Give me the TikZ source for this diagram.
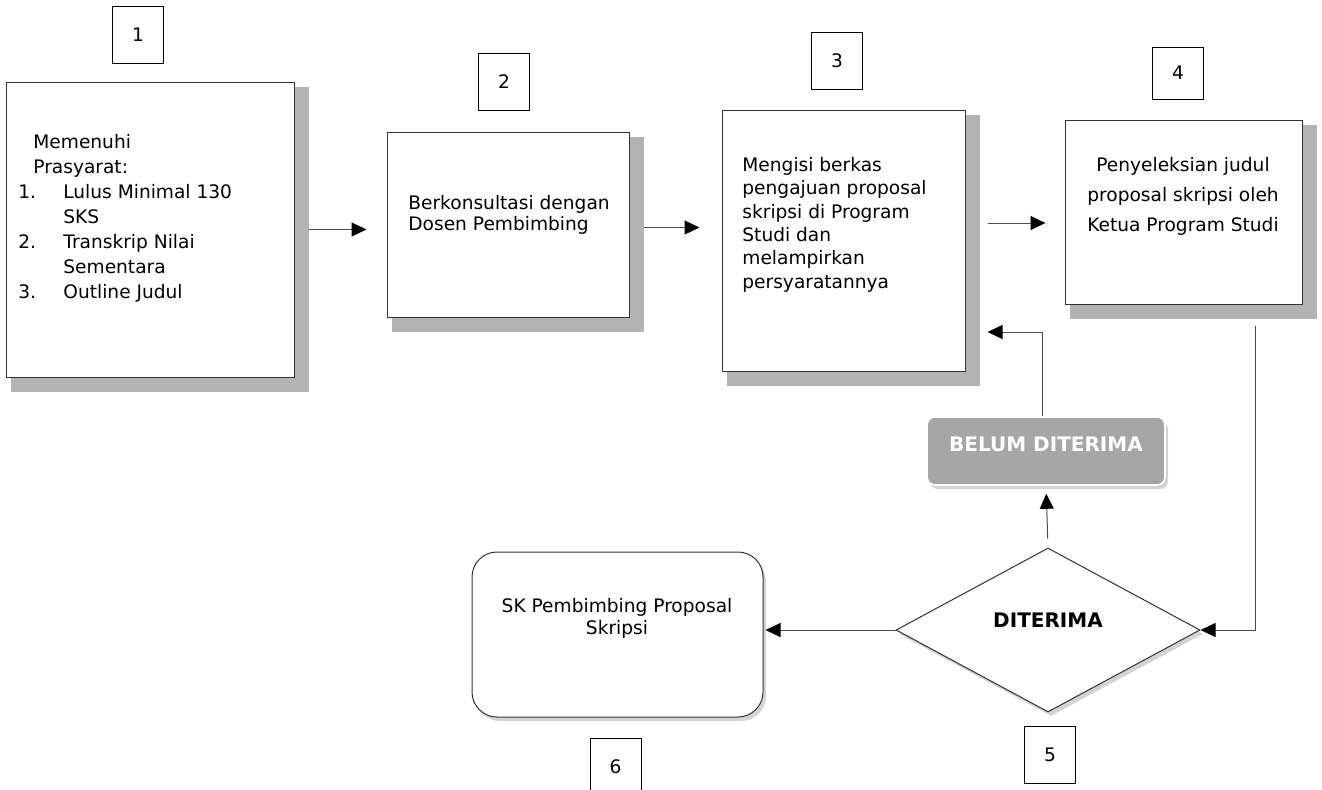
\documentclass[tikz,border=0pt]{standalone}
\usepackage{fontspec}
\setmainfont{DejaVu Sans}
\usetikzlibrary{arrows.meta,shapes.geometric,shadows,backgrounds}
\definecolor{shadowgray}{HTML}{B3B3B3}
\definecolor{belumgray}{HTML}{A6A6A6}
\tikzset{
  box/.style={draw=black!80, line width=0.5pt, fill=white, inner sep=0pt},
  numbox/.style={draw=black, line width=0.5pt, fill=white, minimum width=25.5pt, minimum height=28.5pt, inner sep=0pt, font=\fontsize{9.3}{11}\selectfont},
  txt/.style={inner sep=0pt, align=left, font=\fontsize{9.3}{11}\selectfont},
  bold/.style={inner sep=0pt, font=\bfseries\fontsize{10}{12}\selectfont},
  arr/.style={draw=black!70, line width=0.5pt, -{Triangle[length=7.5pt,width=7pt,color=black]}},
  softshadow/.style={drop shadow={opacity=0.35, shadow xshift=1.5pt, shadow yshift=-2pt}},
}
\begin{document}
\begin{tikzpicture}[x=0.5pt, y=-0.5pt]
        \useasboundingbox (0,0) rectangle (1322,789);
        % main boxes
        \node[box, minimum width=144pt, minimum height=147.5pt] (b1) at (150,229.5) {};
        \node[box, minimum width=121pt, minimum height=92.5pt] (b2) at (508,224.5) {};
        \node[box, minimum width=121.5pt, minimum height=130.5pt] (b3) at (843.5,240.5) {};
        \node[box, minimum width=118.5pt, minimum height=92pt] (b4) at (1183.5,212) {};
        \begin{scope}[on background layer]
          \foreach \b in {b1,b2,b3,b4}
            \fill[shadowgray] ([shift={(5,5)}]\b.north west) rectangle ([shift={(14,14)}]\b.south east);
        \end{scope}
        \node[txt, anchor=north west, font=\fontsize{9.3}{12.5}\selectfont] (t1) at (18,134) {\hspace*{7.5pt}Memenuhi\\\hspace*{7.5pt}Prasyarat:\\\makebox[22.5pt][l]{1.}Lulus Minimal 130\\\hspace*{22.5pt}SKS\\\makebox[22.5pt][l]{2.}Transkrip Nilai\\\hspace*{22.5pt}Sementara\\\makebox[22.5pt][l]{3.}Outline Judul};
        \node[txt, anchor=north west, font=\fontsize{9.3}{10.5}\selectfont] (t2) at (408,195) {Berkonsultasi dengan\\Dosen Pembimbing};
        \node[txt, anchor=north west, font=\fontsize{9.3}{11.67}\selectfont] (t3) at (742,157) {Mengisi berkas\\pengajuan proposal\\skripsi di Program\\Studi dan\\melampirkan\\persyaratannya};
        \node[txt, anchor=north, align=center, font=\fontsize{9.3}{15}\selectfont] (t4) at (1183,157) {Penyeleksian judul\\proposal skripsi oleh\\Ketua Program Studi};
        % decision part
        \node[box, shape=diamond, minimum width=152pt, minimum height=82pt, softshadow] (dia) at (1048,630) {};
        \node[bold] (tdia) at (1048,620) {DITERIMA};
        \node[draw=white, line width=0.8pt, fill=belumgray, rounded corners=4pt, minimum width=119pt, minimum height=34pt, softshadow] (belum) at (1046,451) {};
        \node[bold, text=white] (tbelum) at (1046,444) {BELUM DITERIMA};
        \node[box, rounded corners=12.5pt, minimum width=145.5pt, minimum height=82.5pt, softshadow] (sk) at (617.5,634.5) {};
        \node[txt, anchor=north, align=center, font=\fontsize{9.3}{11}\selectfont] (tsk) at (617,598) {SK Pembimbing Proposal\\Skripsi};
        % numbers
        \node[numbox] (n1) at (138,35) {1};
        \node[numbox] (n2) at (504,82) {2};
        \node[numbox] (n3) at (837,61) {3};
        \node[numbox, minimum height=26pt] (n4) at (1178,73) {4};
        \node[numbox] (n5) at (1050,755) {5};
        \node[numbox] (n6) at (615.5,767) {6};
        % arrows
        \coordinate (k1) at (1042,332);
        \coordinate (k2) at (1255,630);
        \draw[arr] ([xshift=7pt]b1.east) -- ([xshift=-10pt]b1.east -| b2.west);
        \draw[arr] ([xshift=7pt,yshift=-1.5pt]b2.east) -- ([xshift=-11pt,yshift=-1.5pt]b2.east -| b3.west);
        \draw[arr] ([xshift=11pt,yshift=8.75pt]b3.east) -- ([xshift=-9.5pt,yshift=8.75pt]b3.east -| b4.west);
        \draw[arr, shorten >=11pt] (belum.north -| k1) -- (k1) -- (k1 -| b3.east);
        \draw[arr, shorten <=4.5pt, shorten >=4pt] (dia.north) -- (belum.south);
        \draw[arr, shorten >=1pt] (dia.west) -- (dia.west -| sk.east);
        \draw[arr, shorten <=10.5pt] (b4.south -| k2) -- (k2) -- (dia.east);
\end{tikzpicture}
\end{document}
